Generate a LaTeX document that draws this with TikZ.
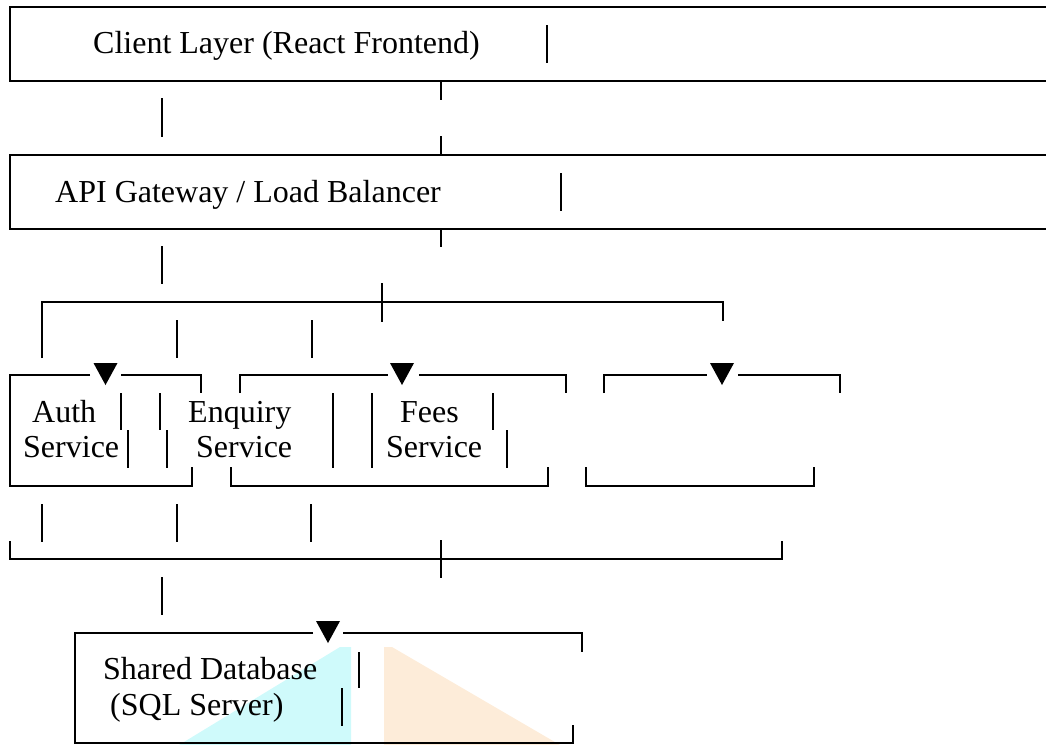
\documentclass[tikz,border=0pt]{standalone}
\usepackage{fontspec}
\setmainfont{Liberation Serif}
\definecolor{lcyan}{RGB}{207,250,251}
\definecolor{lpeach}{RGB}{253,236,217}
\tikzset{
  ln/.style={line width=2.4pt, line cap=butt},
  txt/.style={inner sep=0pt, anchor=base west, font=\fontsize{32}{36}\selectfont},
  tri/.style={fill=black}
}
\newcommand{\mytri}[2]{\fill[tri] (#1-12,#2-12) -- (#1+12,#2-12) -- (#1,#2+10) -- cycle;}
\begin{document}
\begin{tikzpicture}[x=1pt,y=-1pt]
\useasboundingbox (0,0) rectangle (1046,744);
\clip (0,0) rectangle (1046,744);

% Client layer
\draw[ln] (1060,7) -- (10,7) -- (10,81) -- (1060,81);
\node[txt] (client) at (93,53) {Client Layer (React Frontend)};
\draw[ln] (547,25) -- (547,63);

\draw[ln] (441,81) -- (441,100);
\draw[ln] (162,98) -- (162,137);
\draw[ln] (441,136) -- (441,155);

% API gateway
\draw[ln] (1060,155) -- (10,155) -- (10,229) -- (1060,229);
\node[txt] (api) at (55,202) {API Gateway / Load Balancer};
\draw[ln] (561,173) -- (561,211);

\draw[ln] (441,229) -- (441,247);
\draw[ln] (162,246) -- (162,284);
\draw[ln] (382,283) -- (382,322);

% distribution line
\draw[ln] (42,358) -- (42,302) -- (723,302) -- (723,321);
\draw[ln] (177,320) -- (177,358);
\draw[ln] (312,320) -- (312,358);

% Auth box
\draw[ln] (90,375) -- (10,375) -- (10,486) -- (192,486) -- (192,467);
\draw[ln] (121,375) -- (201,375) -- (201,393);
\mytri{105.5}{375}
\node[txt] (auth1) at (32,422) {Auth};
\node[txt] (auth2) at (23,457) {Service};
\draw[ln] (121,393) -- (121,430);
\draw[ln] (160,393) -- (160,430);
\draw[ln] (128,430) -- (128,468);
\draw[ln] (167,430) -- (167,468);

% Enquiry / Fees box
\draw[ln] (240,393) -- (240,375) -- (388,375);
\draw[ln] (419,375) -- (566,375) -- (566,393);
\mytri{402}{375}
\draw[ln] (231,467) -- (231,486) -- (548,486) -- (548,467);
\node[txt] (enq1) at (188,422) {Enquiry};
\node[txt] (enq2) at (196,457) {Service};
\node[txt] (fees1) at (400,422) {Fees};
\node[txt] (fees2) at (386,457) {Service};
\draw[ln] (333,393) -- (333,430);
\draw[ln] (333,430) -- (333,468);
\draw[ln] (372,393) -- (372,430);
\draw[ln] (372,430) -- (372,468);
\draw[ln] (493,393) -- (493,430);
\draw[ln] (507,430) -- (507,468);

% third (empty) box
\draw[ln] (604,393) -- (604,375) -- (707,375);
\draw[ln] (738,375) -- (840,375) -- (840,393);
\mytri{722}{375}
\draw[ln] (586,467) -- (586,486) -- (814,486) -- (814,467);

% collecting line
\draw[ln] (42,504) -- (42,542);
\draw[ln] (177,504) -- (177,542);
\draw[ln] (311,504) -- (311,542);
\draw[ln] (10,541) -- (10,559) -- (782,559) -- (782,541);
\draw[ln] (441,540) -- (441,578);
\draw[ln] (162,577) -- (162,615);

% database
\fill[lcyan] (179,745) -- (340,647) -- (351,647) -- (351,745) -- cycle;
\fill[lpeach] (384,647) -- (392,647) -- (560,745) -- (384,745) -- cycle;
\draw[ln] (313,633) -- (75,633) -- (75,743) -- (573,743) -- (573,725);
\draw[ln] (343,633) -- (582,633) -- (582,652);
\mytri{328}{633}
\node[txt] (db1) at (103,679) {Shared Database};
\node[txt] (db2) at (110,715) {(SQL Server)};
\draw[ln] (359,652) -- (359,688);
\draw[ln] (342,688) -- (342,726);
\end{tikzpicture}
\end{document}
